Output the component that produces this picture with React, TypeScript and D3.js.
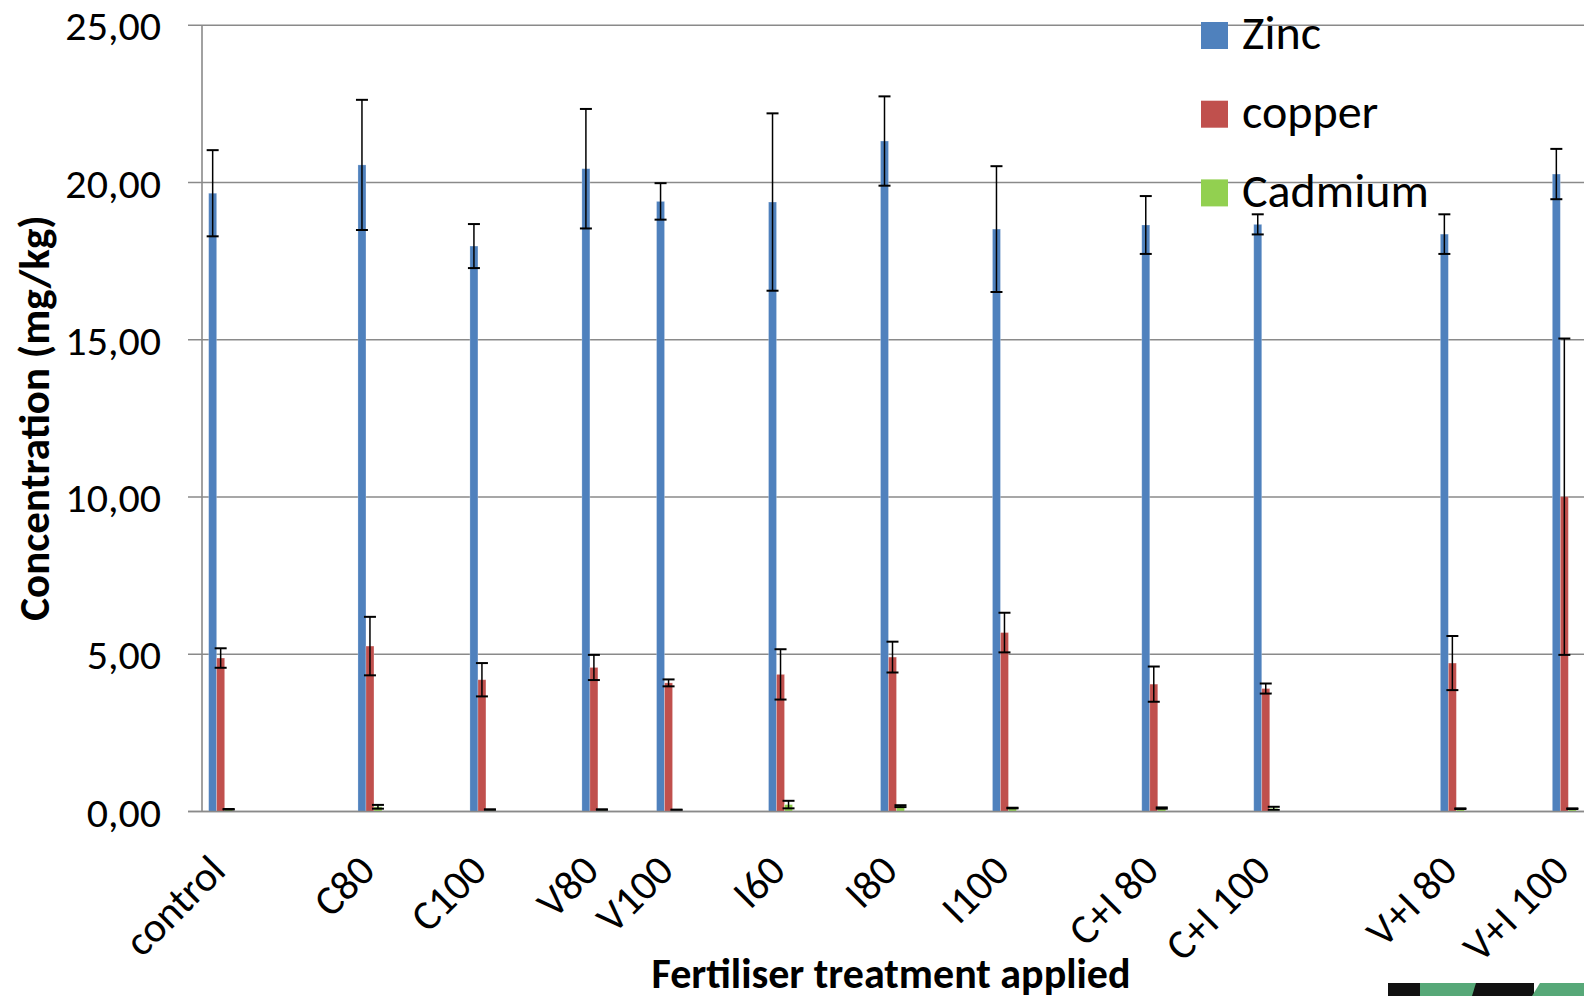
import { useEffect } from 'react'
import * as d3 from 'd3'

// 37 category slots as in the source sheet, blank rows leave the gaps
const categories = [
  'control', '', '', '', 'C80', '', '', 'C100', '', '', 'V80', '', 'V100', '', '', 'I60', '', '',
  'I80', '', '', 'I100', '', '', '', 'C+I 80', '', '', 'C+I 100', '', '', '', '', 'V+I 80', '', '', 'V+I 100',
]
const treatments = ['control', 'C80', 'C100', 'V80', 'V100', 'I60', 'I80', 'I100', 'C+I 80', 'C+I 100', 'V+I 80', 'V+I 100']

const zinc = [19.66, 20.56, 17.98, 20.44, 19.4, 19.38, 21.32, 18.52, 18.65, 18.67, 18.36, 20.27]
const zincErr = [1.37, 2.07, 0.7, 1.9, 0.58, 2.82, 1.42, 2.0, 0.92, 0.32, 0.63, 0.8]
const copper = [4.88, 5.26, 4.19, 4.58, 4.09, 4.36, 4.91, 5.69, 4.05, 3.91, 4.72, 10.01]
const copperErr = [0.31, 0.93, 0.53, 0.4, 0.11, 0.8, 0.49, 0.63, 0.56, 0.16, 0.86, 5.03]
const cadmium = [0.07, 0.15, 0.06, 0.06, 0.05, 0.22, 0.17, 0.11, 0.11, 0.1, 0.09, 0.09]
const cadmiumErr = [0.01, 0.06, 0.01, 0.01, 0.01, 0.12, 0.03, 0.01, 0.02, 0.05, 0.01, 0.01]

const seriesNames = ['Zinc', 'copper', 'Cadmium']
const seriesColors = ['#4f81bd', '#c0504d', '#92d050']
const yTicks = [0, 5, 10, 15, 20, 25]

const W = 1584
const H = 996
const FONT = 'Carlito, Lato, "Liberation Sans", sans-serif'

export default function App() {
  useEffect(() => {
    document.body.style.margin = '0'
  }, [])

  const left = 202
  const right = 1583
  const x = d3.scaleBand<string>().domain(categories.map((_, i) => String(i))).range([left, right])
  const y = d3.scaleLinear().domain([0, 25]).range([811.5, 25.3])
  const barW = 8
  const xs = d3
    .scaleBand<string>()
    .domain(seriesNames)
    .range([0, x.bandwidth()])
    .paddingOuter((x.bandwidth() / barW - 3) / 2)

  const fmt = d3.formatLocale({ decimal: ',', thousands: '.', grouping: [3], currency: ['', ''] }).format('.2f')

  const series = [
    { name: 'Zinc', values: zinc, errs: zincErr },
    { name: 'copper', values: copper, errs: copperErr },
    { name: 'Cadmium', values: cadmium, errs: cadmiumErr },
  ]

  const slot = (t: string) => String(categories.indexOf(t))
  const grid = '#8a8a8a'

  return (
    <svg width={W} height={H} style={{ display: 'block', background: '#fff' }} fontFamily={FONT}>
      {yTicks.map((t) => (
        <g key={t}>
          <line x1={188} x2={W} y1={y(t)} y2={y(t)} stroke={grid} strokeWidth={1.6} />
          <text x={161} y={y(t) + 15} textAnchor="end" fontSize={42} fill="#000">
            {fmt(t)}
          </text>
        </g>
      ))}
      <line x1={left} x2={left} y1={y(25)} y2={y(0)} stroke={grid} strokeWidth={1.6} />

      {series.map((s, si) =>
        treatments.map((t, i) => {
          const bx = (x(slot(t)) ?? 0) + (xs(s.name) ?? 0)
          const v = s.values[i]
          return (
            <rect
              key={s.name + t}
              x={bx}
              y={y(v)}
              width={xs.bandwidth()}
              height={y(0) - y(v)}
              fill={seriesColors[si]}
              stroke="rgba(255,255,255,0.3)"
              strokeWidth={0.8}
            />
          )
        })
      )}

      {series.map((s) =>
        treatments.map((t, i) => {
          const cx = (x(slot(t)) ?? 0) + (xs(s.name) ?? 0) + xs.bandwidth() / 2
          const hi = y(s.values[i] + s.errs[i])
          const lo = y(s.values[i] - s.errs[i])
          return (
            <g key={'e' + s.name + t} stroke="#000">
              <line x1={cx} x2={cx} y1={hi} y2={lo} strokeWidth={1.5} />
              <line x1={cx - 6} x2={cx + 6} y1={hi} y2={hi} strokeWidth={2} />
              <line x1={cx - 6} x2={cx + 6} y1={lo} y2={lo} strokeWidth={2} />
            </g>
          )
        })
      )}

      <line x1={188} x2={W} y1={y(0)} y2={y(0)} stroke={grid} strokeWidth={1.6} />

      {treatments.map((t) => {
        const cx = (x(slot(t)) ?? 0) + x.bandwidth() / 2
        return (
          <text key={'l' + t} transform={`translate(${cx + 7},873) rotate(-45)`} textAnchor="end" fontSize={42} fill="#000">
            {t}
          </text>
        )
      })}

      <text transform="translate(49,418) rotate(-90)" textAnchor="middle" fontSize={43} fontWeight="bold" fill="#000">
        Concentration (mg/kg)
      </text>
      <text x={891} y={988} textAnchor="middle" fontSize={42} fontWeight="bold" fill="#000">
        Fertiliser treatment applied
      </text>

      {seriesNames.map((n, i) => (
        <g key={'lg' + n} transform={`translate(1201,${22 + i * 78.7})`}>
          <rect width={27} height={27} fill={seriesColors[i]} />
          <text x={41} y={27.3} fontSize={48} fill="#000">
            {n}
          </text>
        </g>
      ))}

      {/* cropped logo at the bottom edge */}
      <g>
        <rect x={1388} y={983} width={34} height={13} fill="#111" />
        <polygon points="1420,983 1478,983 1474,996 1420,996" fill="#57a878" />
        <polygon points="1476,983 1534,983 1534,996 1472,996" fill="#111" />
        <polygon points="1540,983 1584,983 1584,996 1532,996" fill="#57a878" />
      </g>
    </svg>
  )
}
